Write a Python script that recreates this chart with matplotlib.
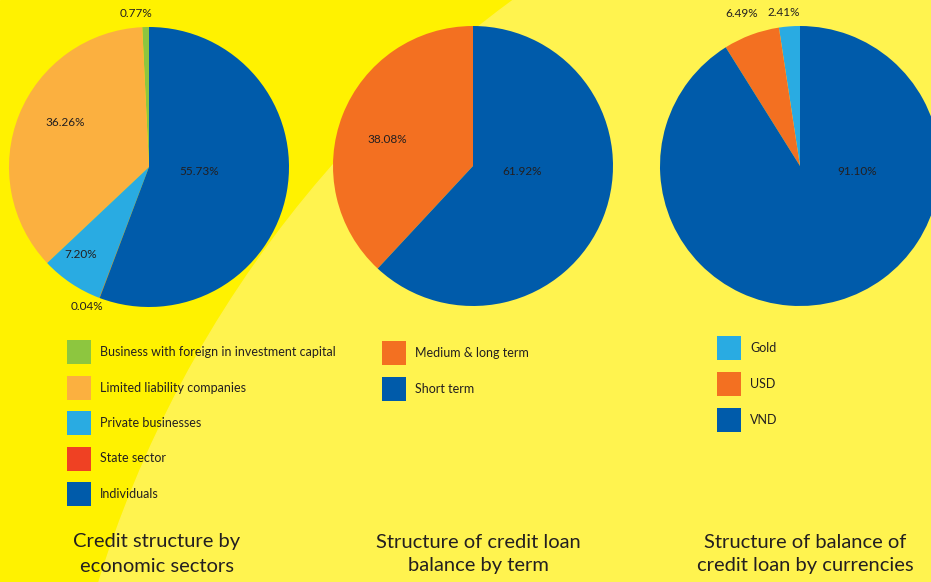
import numpy as np
import matplotlib.pyplot as plt
from matplotlib.patches import Rectangle, Circle

# data
sector_labels = ['Business with foreign in investment capital', 'Limited liability companies',
                 'Private businesses', 'State sector', 'Individuals']
sector_values = [0.77, 36.26, 7.20, 0.04, 55.73]
sector_colors = ['#8dc63f', '#fbb040', '#29abe2', '#ef4123', '#005baa']

term_labels = ['Medium & long term', 'Short term']
term_values = [38.08, 61.92]
term_colors = ['#f37021', '#005baa']

curr_labels = ['Gold', 'USD', 'VND']
curr_values = [2.41, 6.49, 91.10]
curr_colors = ['#29abe2', '#f37021', '#005baa']

titles = ['Credit structure by\neconomic sectors',
          'Structure of credit loan\nbalance by term',
          'Structure of balance of\ncredit loan by currencies']

W, H = 931, 582
FONT = 'Lato'
TXT = '#231f20'

fig = plt.figure(figsize=(W / 100, H / 100), dpi=100)

# background in pixel coords
bg = fig.add_axes([0, 0, 1, 1])
bg.set_xlim(0, W)
bg.set_ylim(H, 0)
bg.axis('off')
bg.add_patch(Rectangle((0, 0), W, H, color='#fff200', zorder=0))
bg.add_patch(Circle((1188, 919), 1140, color='#fff34f', zorder=1))


def pie_at(cx, cy, r, values, colors, spots):
    ax = fig.add_axes([(cx - r) / W, 1 - (cy + r) / H, 2 * r / W, 2 * r / H])
    wedges, _, autotexts = ax.pie(values, colors=colors, startangle=90, counterclock=True,
                                  autopct='%.2f%%', wedgeprops=dict(linewidth=0),
                                  textprops=dict(fontsize=8.5, color=TXT, family=FONT))
    ax.set_xlim(-1, 1)
    ax.set_ylim(-1, 1)
    ax.set_aspect('equal')
    # label spots: (radius, angle in degrees)
    for t, (d, a) in zip(autotexts, spots):
        th = np.deg2rad(a)
        t.set_position((d * np.cos(th), d * np.sin(th)))
        t.set_clip_on(False)
    return ax


pie_at(149, 167, 140, sector_values, sector_colors,
       [(1.1, 95), (0.68, 152), (0.79, 232), (1.09, 246), (0.36, 355)])
pie_at(473, 166, 140, term_values, term_colors, [(0.64, 163), (0.35, 353)])
pie_at(800, 166, 140, curr_values, curr_colors, [(1.1, 96), (1.17, 111), (0.41, 355)])


def legend_at(x, y0, step, labels, colors):
    for i, (lab, col) in enumerate(zip(labels, colors)):
        y = y0 + i * step
        bg.add_patch(Rectangle((x, y - 12), 24, 24, color=col, zorder=3, linewidth=0))
        bg.text(x + 33, y, lab, fontsize=9, color=TXT, va='center', ha='left',
                family=FONT, zorder=3)


legend_at(67, 352, 35.5, sector_labels, sector_colors)
legend_at(382, 353, 36, term_labels, term_colors)
legend_at(717, 348, 36, curr_labels, curr_colors)

for x, t in zip([157, 478, 805], titles):
    bg.text(x, 554, t, fontsize=14.5, color=TXT, ha='center', va='center',
            family=FONT, linespacing=1.5, zorder=3)

fig.savefig('out.png', dpi=100)
